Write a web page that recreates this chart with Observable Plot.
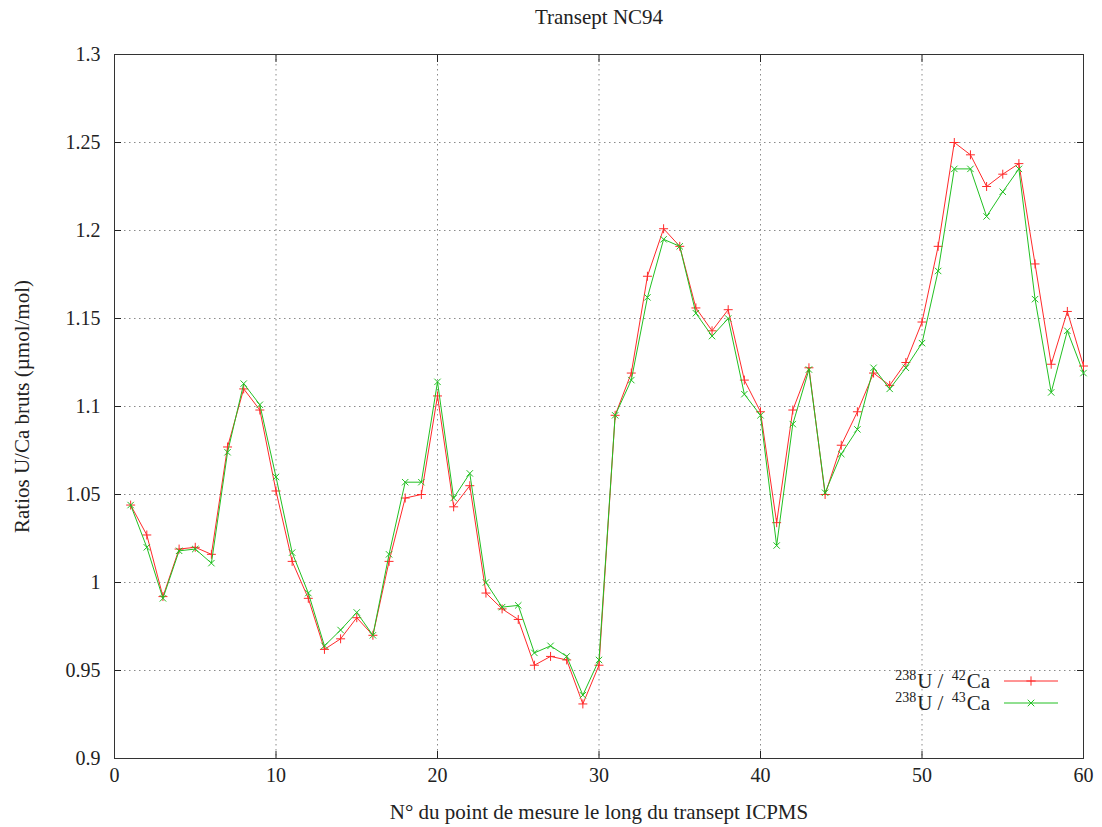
<!DOCTYPE html>
<html><head><meta charset="utf-8">
<script src="https://cdn.jsdelivr.net/npm/d3@7"></script>
<script src="https://cdn.jsdelivr.net/npm/@observablehq/plot@0.6"></script>
<style>
body{margin:0;background:#fff;}
#wrap{position:relative;width:1102px;height:827px;font-family:"Liberation Serif","Times New Roman",serif;color:#222;}
#chart svg, #chart svg text{font-family:"Liberation Serif","Times New Roman",serif !important;}
#legend{position:absolute;left:830px;top:670px;width:240px;}
.row{position:relative;height:22px;}
.lab{position:absolute;right:80px;top:0;white-space:nowrap;line-height:22px;font-size:21px;}
.lab .main{display:inline-block;font-size:21px;line-height:15px;height:15px;vertical-align:baseline;}
.lab .sup{display:inline-block;font-size:14px;line-height:10px;height:10px;vertical-align:8px;margin-right:1px;}
.lab .sup.iso{margin-left:3px;}
.sw{position:absolute;left:173px;top:6px;}
</style></head><body>
<div id="wrap"><div id="chart"></div>
<div id="legend"></div></div>
<script>
const pointNo = [1,2,3,4,5,6,7,8,9,10,11,12,13,14,15,16,17,18,19,20,21,22,23,24,25,26,27,28,29,30,31,32,33,34,35,36,37,38,39,40,41,42,43,44,45,46,47,48,49,50,51,52,53,54,55,56,57,58,59,60];
const u42Ca = [1.044,1.027,0.992,1.019,1.020,1.016,1.077,1.110,1.098,1.052,1.012,0.991,0.962,0.968,0.980,0.970,1.012,1.048,1.050,1.106,1.043,1.055,0.994,0.985,0.979,0.953,0.958,0.956,0.931,0.953,1.095,1.119,1.174,1.201,1.191,1.156,1.143,1.155,1.115,1.097,1.034,1.098,1.122,1.050,1.078,1.097,1.119,1.112,1.125,1.148,1.191,1.250,1.243,1.225,1.232,1.238,1.181,1.124,1.154,1.123];
const u43Ca = [1.044,1.020,0.991,1.018,1.019,1.011,1.074,1.113,1.101,1.060,1.017,0.994,0.964,0.973,0.983,0.970,1.016,1.057,1.057,1.114,1.048,1.062,1.000,0.986,0.987,0.960,0.964,0.958,0.936,0.956,1.095,1.115,1.162,1.195,1.191,1.153,1.140,1.150,1.107,1.095,1.021,1.090,1.121,1.051,1.073,1.087,1.122,1.110,1.122,1.136,1.177,1.235,1.235,1.208,1.222,1.235,1.161,1.108,1.143,1.119];
const xTicks = [0,10,20,30,40,50,60];
const yTicks = [0.9,0.95,1,1.05,1.1,1.15,1.2,1.25,1.3];
const titleText = ["Transept NC94"];
const xLabel = ["N° du point de mesure le long du transept ICPMS"];
const yLabel = ["Ratios U/Ca bruts (µmol/mol)"];
const legendEntries = [{mass:"238", iso:"42", color:"#ff2a2a", sym:"plus"},{mass:"238", iso:"43", color:"#22c022", sym:"times"}];

const rows42 = pointNo.map((n,i)=>({n, v:u42Ca[i]}));
const rows43 = pointNo.map((n,i)=>({n, v:u43Ca[i]}));
const fmt = d => String(+(+d).toFixed(2));
const gridStyle = {stroke:"#8a8a8a", strokeOpacity:1, strokeWidth:1, strokeDasharray:"1.5,3.5"};
const serif = "'Liberation Serif', 'Times New Roman', serif";

const chart = Plot.plot({
  width:1102, height:827,
  marginLeft:114, marginRight:19, marginTop:54, marginBottom:69,
  style:{fontFamily:serif, fontSize:"20px", background:"#fff", color:"#222"},
  x:{domain:[0,60]}, y:{domain:[0.9,1.3]},
  marks:[
    Plot.gridX(xTicks.slice(1,-1), gridStyle),
    Plot.gridY(yTicks.slice(1,-1), gridStyle),
    Plot.axisX(xTicks,{anchor:"bottom", tickSize:-7, tickPadding:16, tickFormat:fmt, label:null, fontSize:20}),
    Plot.axisX(xTicks,{anchor:"top", tickSize:-7, tickFormat:()=>"", label:null}),
    Plot.axisY(yTicks,{anchor:"left", tickSize:-7, tickPadding:21, tickFormat:fmt, label:null, fontSize:20}),
    Plot.axisY(yTicks,{anchor:"right", tickSize:-7, tickFormat:()=>"", label:null}),
    Plot.frame({stroke:"#333", strokeWidth:1}),
    Plot.line(rows42,{x:"n", y:"v", stroke:legendEntries[0].color, strokeWidth:1}),
    Plot.dot(rows42,{x:"n", y:"v", stroke:legendEntries[0].color, symbol:"plus", r:3, strokeWidth:1}),
    Plot.line(rows43,{x:"n", y:"v", stroke:legendEntries[1].color, strokeWidth:1}),
    Plot.dot(rows43,{x:"n", y:"v", stroke:legendEntries[1].color, symbol:"times", r:3, strokeWidth:1}),
    Plot.text(titleText,{frameAnchor:"top", dy:-45, fontSize:21, fill:"#222"}),
    Plot.text(xLabel,{frameAnchor:"bottom", dy:60, fontSize:21, fill:"#222"}),
    Plot.text(yLabel,{frameAnchor:"left", textAnchor:"middle", rotate:-90, dx:-92, fontSize:21, fill:"#222"})
  ]
});
document.getElementById("chart").appendChild(chart);

const leg = document.getElementById("legend");
legendEntries.forEach(e=>{
  const row = document.createElement("div");
  row.className="row";
  row.innerHTML = `<span class="lab"><span class="sup">${e.mass}</span><span class="main">U /&nbsp;</span><span class="sup iso">${e.iso}</span><span class="main">Ca</span></span>`;
  const sw = d3.create("svg").attr("class","sw").attr("width",56).attr("height",10);
  sw.append("line").attr("x1",1).attr("x2",55).attr("y1",5).attr("y2",5).attr("stroke",e.color).attr("stroke-width",1);
  sw.append("path").attr("transform","translate(28,5)").attr("d",d3.symbol(e.sym==="plus"?d3.symbolPlus:d3.symbolTimes,30)()).attr("fill","none").attr("stroke",e.color);
  row.appendChild(sw.node());
  leg.appendChild(row);
});
</script>
</body></html>
